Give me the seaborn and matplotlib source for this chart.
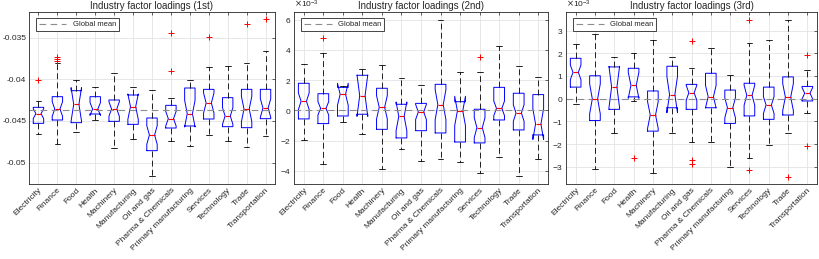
import matplotlib
matplotlib.use("Agg")
import matplotlib.pyplot as plt
import seaborn as sns
import pandas as pd
from matplotlib.ticker import FuncFormatter

industries = ["Electricity", "Finance", "Food", "Health", "Machinery", "Manufacturing",
              "Oil and gas", "Pharma & Chemicals", "Primary manufacturing", "Services",
              "Technology", "Trade", "Transportation"]
titles = ["Industry factor loadings (1st)", "Industry factor loadings (2nd)",
          "Industry factor loadings (3rd)"]

# 1st factor (raw values)
f1_q1 = [-0.04528, -0.04488, -0.0452, -0.04416, -0.04504, -0.0454, -0.04856,
         -0.04584, -0.0456, -0.04476, -0.04568, -0.0458, -0.04472]
f1_med = [-0.04412, -0.04356, -0.043, -0.04356, -0.04356, -0.04328, -0.04668,
          -0.04472, -0.04412, -0.04284, -0.0444, -0.04356, -0.04344]
f1_q3 = [-0.04336, -0.04208, -0.04136, -0.04208, -0.04248, -0.04188, -0.04464,
         -0.04312, -0.04104, -0.0412, -0.0422, -0.0412, -0.0412]
f1_lo = [-0.04656, -0.04776, -0.04632, -0.04488, -0.0482, -0.0472, -0.0516,
         -0.0474, -0.048, -0.04672, -0.0474, -0.04812, -0.04676]
f1_hi = [-0.04256, -0.0381, -0.04008, -0.04096, -0.0392, -0.04096, -0.04132,
         -0.0422, -0.04008, -0.03852, -0.03844, -0.03804, -0.03656]
f1_notch = [0.0006, 0.00088, 0.002, 0.00076, 0.00088, 0.00152, 0.00112,
            0.00088, 0.0016, 0.0012, 0.001, 0.00152, 0.00112]
f1_out_ind = ["Electricity", "Finance", "Finance", "Finance", "Pharma & Chemicals",
              "Pharma & Chemicals", "Services", "Trade", "Transportation"]
f1_out_val = [-0.04008, -0.03728, -0.03752, -0.03776, -0.03444, -0.03896,
              -0.03492, -0.03336, -0.0328]

# 2nd factor (x 1e-3)
f2_q1 = [-0.57, -0.88, -0.375, -0.26, -1.26, -1.83, -1.35, -1.50, -2.10, -2.16, -0.64, -1.30, -1.63]
f2_med = [0.60, 0.13, 1.06, 0.97, 0.20, -0.40, -0.11, 0.375, -0.04, -1.15, 0.13, -0.18, -0.91]
f2_q3 = [1.79, 1.10, 1.52, 2.32, 1.46, 0.40, 0.46, 1.72, 0.57, 0.07, 1.52, 1.13, 1.04]
f2_lo = [-1.99, -3.55, -0.79, -1.59, -3.91, -2.58, -3.38, -3.20, -3.42, -4.13, -3.09, -4.37, -3.25]
f2_hi = [3.05, 3.77, 1.61, 2.74, 2.98, 2.12, 1.70, 6.00, 2.52, 2.56, 4.26, 2.96, 2.19]
f2_notch = [0.55, 0.44, 0.73, 1.37, 0.77, 0.95, 0.50, 0.99, 0.97, 0.66, 0.49, 0.55, 1.02]
f2_out_ind = ["Finance", "Services"]
f2_out_val = [4.81, 3.55]

# 3rd factor (x 1e-3)
f3_q1 = [0.51, -0.96, -0.47, 0.08, -1.43, -0.40, -0.47, -0.40, -1.09, -0.76, -0.91, -0.72, -0.10]
f3_med = [1.16, -0.01, 0.51, 0.59, -0.72, 0.18, 0.26, 0.09, -0.40, 0.15, -0.28, 0.07, 0.24]
f3_q3 = [1.78, 1.01, 1.40, 1.34, 0.34, 1.43, 0.63, 1.12, 0.38, 0.68, 0.51, 0.96, 0.54]
f3_lo = [-0.25, -3.09, -1.50, -0.12, -3.26, -1.50, -1.90, -1.93, -3.00, -2.60, -2.04, -1.50, -0.65]
f3_hi = [2.43, 2.85, 1.82, 2.03, 2.59, 1.82, 1.34, 2.25, 1.03, 2.44, 2.57, 3.47, 1.25]
f3_notch = [0.32, 0.66, 0.91, 0.57, 0.59, 0.80, 0.33, 0.50, 0.44, 0.44, 0.37, 0.59, 0.25]
f3_out_ind = ["Health", "Oil and gas", "Oil and gas", "Oil and gas", "Services",
              "Services", "Trade", "Transportation", "Transportation"]
f3_out_val = [-2.63, 2.56, -2.72, -2.88, 3.47, -3.15, -3.43, 1.91, -2.09]

global_means = [-0.04368, 0.0, 0.0]
scales = [1.0, 1e-3, 1e-3]
ylims = [(-0.05256, -0.03192), (-4.88e-3, 6.51e-3), (-3.76e-3, 3.82e-3)]
yticks = [[-0.05, -0.045, -0.04, -0.035],
          [-4e-3, -2e-3, 0, 2e-3, 4e-3, 6e-3],
          [-3e-3, -2e-3, -1e-3, 0, 1e-3, 2e-3, 3e-3]]

panels = [
    (f1_q1, f1_med, f1_q3, f1_lo, f1_hi, f1_notch, f1_out_ind, f1_out_val),
    (f2_q1, f2_med, f2_q3, f2_lo, f2_hi, f2_notch, f2_out_ind, f2_out_val),
    (f3_q1, f3_med, f3_q3, f3_lo, f3_hi, f3_notch, f3_out_ind, f3_out_val),
]

sns.set_style("whitegrid", {"grid.color": "#e3e3e3", "axes.edgecolor": "#262626"})
plt.rcParams["font.family"] = ["Liberation Sans", "DejaVu Sans"]
plt.rcParams["axes.unicode_minus"] = False

fig = plt.figure(figsize=(8.19, 2.59), dpi=100)
axes_px = [(29, 275), (294, 548), (566, 817)]
W, H = 819, 259
top_px, bot_px = 12, 184

positions = list(range(1, len(industries) + 1))
dash = (0, (7, 4))

for k, (q1, med, q3, lo, hi, notch, out_ind, out_val) in enumerate(panels):
    x0, x1 = axes_px[k]
    ax = fig.add_axes([x0 / W, (H - bot_px) / H, (x1 - x0) / W, (bot_px - top_px) / H])
    s = scales[k]

    stats = []
    for i, name in enumerate(industries):
        stats.append(dict(label=name, med=med[i] * s, q1=q1[i] * s, q3=q3[i] * s,
                          whislo=lo[i] * s, whishi=hi[i] * s,
                          cilo=(med[i] - notch[i]) * s, cihi=(med[i] + notch[i]) * s,
                          fliers=[]))

    ax.bxp(stats, positions=positions, widths=0.55, capwidths=0.3, shownotches=True,
           showfliers=False, manage_ticks=False,
           boxprops=dict(color="blue", lw=0.7),
           medianprops=dict(color="red", lw=0.8),
           whiskerprops=dict(color="black", lw=0.6, linestyle=dash),
           capprops=dict(color="black", lw=0.6))

    out = pd.DataFrame({"pos": [industries.index(n) + 1 for n in out_ind],
                        "val": [v * s for v in out_val]})
    sns.scatterplot(data=out, x="pos", y="val", marker="+", color="red", s=18,
                    linewidth=0.7, ax=ax, legend=False, zorder=3)

    ax.axhline(global_means[k], color="0.55", lw=0.8, ls=(0, (6, 4)),
               label="Global mean", zorder=2)

    ax.set_xlim(0.5, len(industries) + 0.5)
    ax.set_ylim(*ylims[k])
    ax.set_xticks(positions)
    ax.set_xticklabels(industries, rotation=45, ha="right", va="top",
                       rotation_mode="anchor", fontsize=6)
    ax.set_yticks(yticks[k])
    if k == 0:
        ax.yaxis.set_major_formatter(FuncFormatter(lambda v, p: f"{v:g}"))
    else:
        ax.ticklabel_format(axis="y", style="sci", scilimits=(-3, -3), useMathText=True)
        ax.yaxis.get_offset_text().set_fontsize(6)
    ax.set_xlabel("")
    ax.set_ylabel("")
    ax.tick_params(axis="both", which="both", direction="in", length=2.5, width=0.5,
                   top=True, right=True, labelsize=6, pad=2)
    ax.grid(True, lw=0.6)
    for sp in ax.spines.values():
        sp.set_linewidth(0.6)
        sp.set_color("#262626")
    ax.set_title(titles[k], fontsize=7, pad=2)
    ax.legend(loc="upper left", bbox_to_anchor=(0.028, 0.965), borderaxespad=0,
              fontsize=5.5, handlelength=3.6, fancybox=False, framealpha=1,
              edgecolor="#262626", borderpad=0.4)
    ax.get_legend().get_frame().set_linewidth(0.6)

fig.savefig("out.png", dpi=100)
